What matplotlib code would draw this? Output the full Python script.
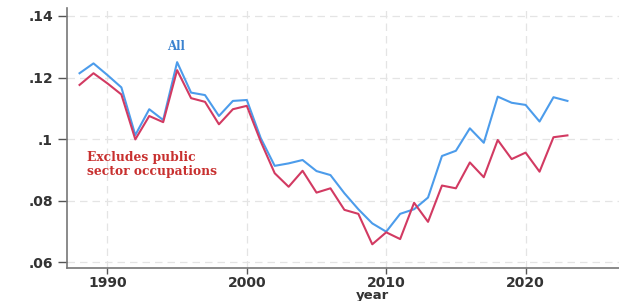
import numpy as np
import matplotlib.pyplot as plt

# Values
years = list(range(1988, 2024))
all_occ = [0.1214, 0.1246, 0.1208, 0.1168, 0.1013, 0.1097, 0.1062, 0.1250,
           0.1151, 0.1143, 0.1075, 0.1124, 0.1127, 0.1003, 0.0913, 0.0921,
           0.0932, 0.0896, 0.0883, 0.0824, 0.0772, 0.0726, 0.0699, 0.0757,
           0.0772, 0.0810, 0.0945, 0.0962, 0.1035, 0.0988, 0.1138, 0.1118,
           0.1111, 0.1057, 0.1136, 0.1124]
excl_public = [0.1176, 0.1214, 0.1181, 0.1145, 0.0999, 0.1075, 0.1055, 0.1224,
               0.1133, 0.1121, 0.1048, 0.1097, 0.1108, 0.0992, 0.0889, 0.0845,
               0.0897, 0.0826, 0.0840, 0.0770, 0.0757, 0.0658, 0.0697, 0.0675,
               0.0793, 0.0731, 0.0849, 0.0840, 0.0924, 0.0876, 0.0997, 0.0935,
               0.0956, 0.0894, 0.1006, 0.1012]
xticks = [1990, 2000, 2010, 2020]
yticks = [0.06, 0.08, 0.10, 0.12, 0.14]
ytick_labels = [".06", ".08", ".1", ".12", ".14"]

blue = "#4c9ceb"
red = "#d23a62"

fig = plt.figure(figsize=(6.19, 3.01), dpi=100)
ax = fig.add_axes([67 / 619, 33 / 301, 552 / 619, 260 / 301])

ax.plot(years, all_occ, color=blue, lw=1.5, zorder=3)
ax.plot(years, excl_public, color=red, lw=1.5, zorder=3)

ax.set_xlim(1987.1, 2026.7)
ax.set_ylim(0.0581, 0.1426)
ax.set_xticks(xticks)
ax.set_yticks(yticks)
ax.set_yticklabels(ytick_labels)

# Stata-like look
for side in ["top", "right"]:
    ax.spines[side].set_visible(False)
for side in ["left", "bottom"]:
    ax.spines[side].set_color("#777777")
    ax.spines[side].set_linewidth(1.2)
ax.tick_params(axis="both", colors="#555555", width=1,
               labelsize=10, labelcolor="#333333")
ax.tick_params(axis="y", length=6.5, pad=3.5)
ax.tick_params(axis="x", length=4, pad=2)
ax.grid(True, color="#e4e4e4", linestyle=(0, (6, 4)), linewidth=0.9)
ax.set_axisbelow(True)
for lab in ax.get_xticklabels() + ax.get_yticklabels():
    lab.set_fontfamily("DejaVu Sans")
    lab.set_fontweight("bold")

fig.text(372 / 619, 1 - 295.5 / 301, "year", fontsize=9.5, fontfamily="DejaVu Sans",
         fontweight="bold", color="#333333", ha="center", va="center")

ax.text(1994.9, 0.1300, "All", color="#3b82cf", fontsize=8.5,
        fontfamily="DejaVu Serif", fontweight="bold", ha="center", va="center")
ax.text(1988.5, 0.0916, "Excludes public\nsector occupations", color="#c8302f",
        fontsize=8.8, fontfamily="DejaVu Serif", fontweight="bold",
        ha="left", va="center", linespacing=1.1)

fig.savefig("out.png", dpi=100)
